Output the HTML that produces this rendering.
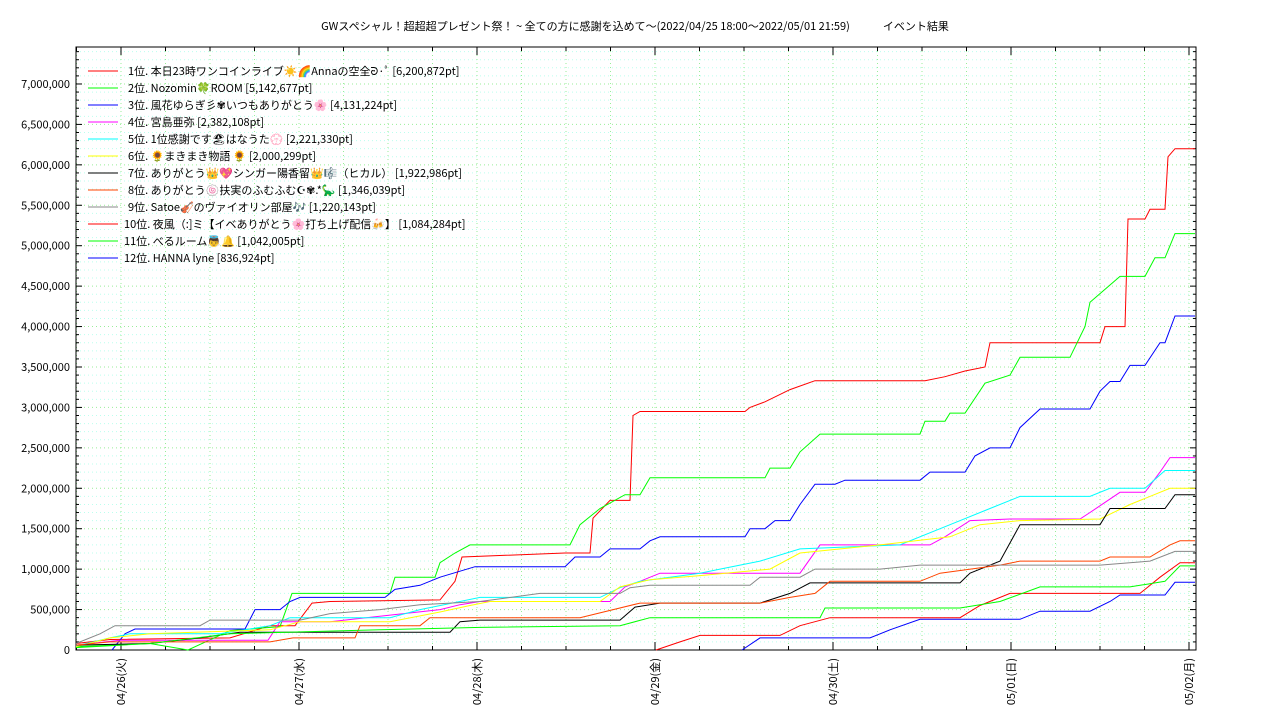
<!DOCTYPE html>
<html><head><meta charset="utf-8"><style>
html,body{margin:0;padding:0;background:#fff;width:1280px;height:720px;overflow:hidden}
svg text{font-family:"Noto Sans CJK JP","Liberation Sans",sans-serif;fill:#000}
</style></head><body>
<svg id="s" width="1280" height="720" xmlns="http://www.w3.org/2000/svg">
<text x="635" y="30" font-size="11" text-anchor="middle">GWスペシャル！超超超プレゼント祭！ ~ 全ての方に感謝を込めて〜(2022/04/25 18:00〜2022/05/01 21:59)　　　イベント結果</text>
</svg>
<script>
const s=document.getElementById('s');const NS='http://www.w3.org/2000/svg';
function el(t,a,txt){const e=document.createElementNS(NS,t);for(const k in a)e.setAttribute(k,a[k]);if(txt!==undefined)e.textContent=txt;s.appendChild(e);return e;}
const L=76,R=1196,T=47,B=650;
const Y=v=>B-v*0.00008086;
for(let v=100000;v<=7400000;v+=100000){const y=Y(v);if(y<T)break;el('line',{x1:L,x2:R,y1:y,y2:y,stroke:(v%500000==0)?'#9e9':'#bfe',"stroke-width":1,"stroke-dasharray":"1,3"});}
for(let i=0;i<30;i++){const x=121-44.5+i*44.5;if(x<=L||x>=R)continue;el('line',{x1:x,x2:x,y1:T,y2:B,stroke:'#9e9',"stroke-width":1,"stroke-dasharray":"1,3"});}
el('rect',{x:L,y:T,width:R-L,height:B-T,fill:'none',stroke:'#000',"stroke-width":1});
for(let v=0;v<=7400000;v+=100000){const y=Y(v);if(y<T)break;const big=v%500000==0;
 el('line',{x1:L,x2:L+(big?6:3),y1:y,y2:y,stroke:'#000'});el('line',{x1:R,x2:R-(big?6:3),y1:y,y2:y,stroke:'#000'});
 if(big){el('text',{x:70,y:y+4,"font-size":11,"text-anchor":"end"},v==0?'0':v.toLocaleString('en-US'));}}
const days=['04/26(火)','04/27(水)','04/28(木)','04/29(金)','04/30(土)','05/01(日)','05/02(月)'];
for(let i=0;i<30;i++){const x=121-44.5+i*44.5;if(x<=L||x>=R)continue;const big=((i-1)%4)==0;
 el('line',{x1:x,x2:x,y1:B,y2:B-(big?8:4),stroke:'#000'});el('line',{x1:x,x2:x,y1:T,y2:T+(big?8:4),stroke:'#000'});}
days.forEach((d,i)=>{const x=121+i*178;el('text',{x:0,y:0,"font-size":11,"text-anchor":"end",transform:`translate(${x+4},658) rotate(-90)`},d);});
const K=1000;
const series=[
['#f00',[[76,80],[110,130],[230,150],[270,300],[295,300],[312,580],[330,600],[440,620],[455,850],[462,1150],[565,1200],[590,1200],[593,1630],[610,1850],[630,1850],[633,2900],[640,2950],[745,2950],[750,3000],[765,3070],[790,3220],[815,3330],[925,3330],[945,3380],[965,3450],[985,3500],[990,3800],[1100,3800],[1105,4000],[1125,4000],[1128,5330],[1145,5330],[1150,5450],[1165,5450],[1168,6100],[1175,6200],[1195,6200]]],
['#0f0',[[76,40],[150,80],[188,0],[230,240],[280,290],[292,700],[390,700],[395,900],[435,900],[440,1080],[455,1200],[470,1300],[570,1300],[580,1550],[600,1750],[625,1920],[640,1920],[650,2130],[765,2130],[770,2250],[790,2250],[800,2450],[820,2670],[920,2670],[925,2830],[945,2830],[950,2930],[965,2930],[985,3300],[1010,3400],[1020,3620],[1070,3620],[1085,4000],[1090,4300],[1120,4620],[1145,4620],[1155,4850],[1165,4850],[1175,5150],[1195,5150]]],
['#00f',[[112,0],[125,200],[135,260],[245,260],[255,500],[280,500],[290,600],[300,650],[385,650],[395,750],[420,800],[440,900],[475,1030],[565,1030],[575,1150],[600,1150],[610,1250],[640,1250],[650,1350],[660,1400],[745,1400],[750,1500],[765,1500],[775,1600],[790,1600],[800,1800],[815,2050],[835,2050],[845,2100],[920,2100],[930,2200],[965,2200],[975,2400],[990,2500],[1010,2500],[1020,2750],[1040,2980],[1090,2980],[1100,3200],[1110,3320],[1120,3320],[1130,3520],[1145,3520],[1160,3800],[1165,3800],[1175,4130],[1195,4130]]],
['#f0f',[[76,60],[120,120],[268,120],[280,350],[330,350],[440,500],[460,560],[480,600],[610,600],[625,780],[640,850],[660,950],[800,950],[820,1300],[930,1300],[945,1400],[970,1600],[1010,1620],[1080,1620],[1090,1700],[1120,1950],[1145,1950],[1160,2200],[1170,2380],[1195,2380]]],
['#0ff',[[76,50],[110,150],[130,200],[220,200],[270,300],[290,400],[390,400],[420,500],[460,600],[480,650],[600,650],[620,770],[640,850],[700,950],[720,1000],[760,1100],[800,1250],[900,1300],[950,1550],[990,1750],[1020,1900],[1090,1900],[1110,2000],[1145,2000],[1165,2220],[1195,2220]]],
['#ff0',[[76,40],[110,150],[150,200],[270,250],[300,350],[390,350],[440,470],[470,550],[490,600],[600,600],[620,780],[650,870],[700,920],[770,1000],[800,1200],[880,1300],[950,1400],[980,1550],[1020,1600],[1100,1620],[1130,1800],[1170,2000],[1195,2000]]],
['#000',[[76,60],[150,80],[200,150],[240,220],[450,220],[460,350],[480,370],[620,370],[635,530],[660,580],[760,580],[790,700],[810,830],[960,830],[970,950],[1000,1100],[1020,1550],[1100,1550],[1110,1750],[1165,1750],[1175,1920],[1195,1920]]],
['#f40',[[76,60],[110,100],[270,100],[293,150],[355,150],[360,300],[420,300],[430,400],[580,400],[640,580],[760,580],[790,650],[815,700],[830,850],[920,850],[940,950],[1000,1050],[1020,1100],[1100,1100],[1110,1150],[1150,1150],[1170,1300],[1180,1350],[1195,1350]]],
['#888',[[76,80],[100,200],[115,300],[200,300],[210,370],[300,370],[330,450],[380,500],[420,560],[480,600],[540,700],[620,700],[630,770],[650,800],[750,800],[760,900],[800,900],[815,1000],[880,1000],[920,1050],[1100,1050],[1150,1100],[1175,1220],[1195,1220]]],
['#f00',[[656,0],[680,100],[700,180],[780,180],[800,300],[830,400],[960,400],[980,550],[1010,700],[1140,700],[1160,900],[1180,1080],[1195,1080]]],
['#0f0',[[76,30],[150,80],[230,200],[380,250],[480,280],[620,300],[650,400],[820,400],[825,520],[960,520],[1000,600],[1040,780],[1130,780],[1165,850],[1180,1040],[1195,1040]]],
['#00f',[[742,0],[760,150],[870,150],[890,250],[920,380],[1020,380],[1040,480],[1090,480],[1110,600],[1120,680],[1165,680],[1175,837],[1195,837]]]
];
series.forEach(([c,p])=>{el('polyline',{points:p.map(q=>q[0]+','+Y(q[1]*K).toFixed(1)).join(' '),fill:'none',stroke:c,"stroke-width":1});});
const leg=[['#f00','1位. 本日23時ワンコインライブ☀️🌈Annaの空全ᘒ·ﾟ [6,200,872pt]'],['#0f0','2位. Nozomin🍀ROOM [5,142,677pt]'],['#00f','3位. 風花ゆらぎ彡✾いつもありがとう🌸 [4,131,224pt]'],['#f0f','4位. 宮島亜弥 [2,382,108pt]'],['#0ff','5位. 1位感謝です🏖はなうた💮 [2,221,330pt]'],['#ff0','6位. 🌻まきまき物語 🌻 [2,000,299pt]'],['#000','7位. ありがとう👑💖シンガー陽香留👑🎼（ヒカル） [1,922,986pt]'],['#f40','8位. ありがとう🍥扶実のふむふむ☪✾.*🦕 [1,346,039pt]'],['#888','9位. Satoe🎻のヴァイオリン部屋🎶 [1,220,143pt]'],['#f00','10位. 夜風（:]ミ【イベありがとう🌸打ち上げ配信🍻】 [1,084,284pt]'],['#0f0','11位. べるルーム👼🔔 [1,042,005pt]'],['#00f','12位. HANNA lyne [836,924pt]']];
leg.forEach(([c,t],i)=>{const y=71+i*17;el('line',{x1:88,x2:118,y1:y,y2:y,stroke:c,"stroke-width":1});el('text',{x:i>=9?124:128,y:y+4,"font-size":11},t);});
</script>
</body></html>
